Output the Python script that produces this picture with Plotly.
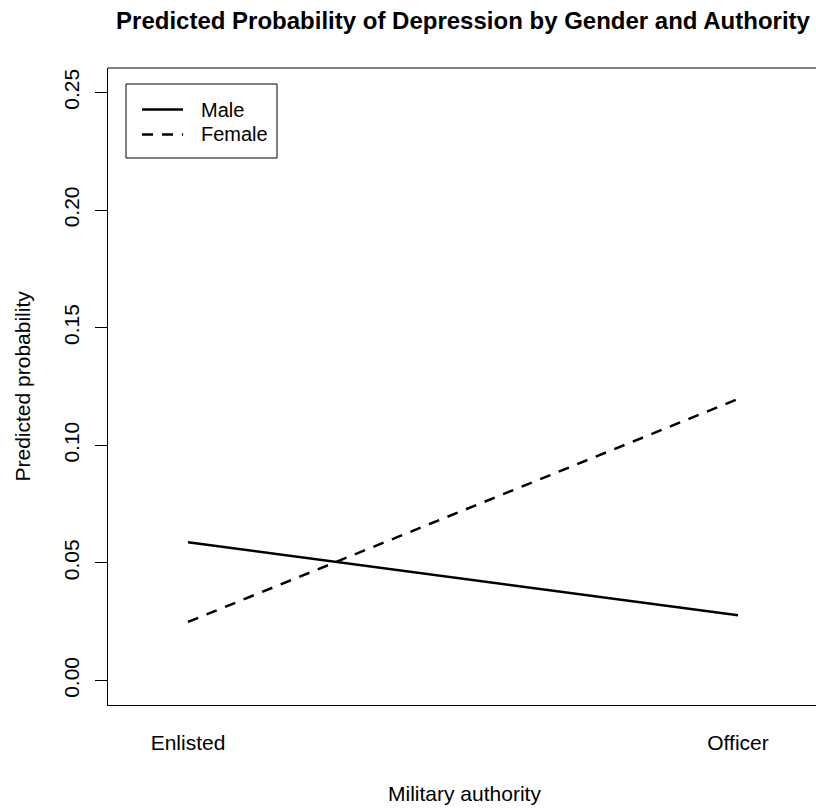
import plotly.graph_objects as go

categories = ["Enlisted", "Officer"]
male = [0.0588, 0.0278]
female = [0.0249, 0.1197]
ytick_vals = [0.00, 0.05, 0.10, 0.15, 0.20, 0.25]
ytick_text = ["0.00", "0.05", "0.10", "0.15", "0.20", "0.25"]
series_names = ["Male", "Female"]

FONT = "Liberation Sans, Arial, Helvetica, sans-serif"
L, T, W, H = 108, 68, 708, 637  # plot area in pixels


def px(x):
    return (x - L) / W


def py(y):
    return (T + H - y) / H


fig = go.Figure()
fig.add_trace(go.Scatter(x=categories, y=male, mode="lines", name=series_names[0],
                         line=dict(color="black", width=2.5), showlegend=False))
fig.add_trace(go.Scatter(x=categories, y=female, mode="lines", name=series_names[1],
                         line=dict(color="black", width=2.5, dash="11px,9px"), showlegend=False))

shapes = [
    # top border of the box
    dict(type="line", xref="paper", yref="paper", x0=0, x1=1.02, y0=1, y1=1,
         line=dict(color="black", width=1)),
    # legend box
    dict(type="rect", xref="paper", yref="paper", x0=px(126), x1=px(277), y0=py(158), y1=py(84),
         line=dict(color="black", width=1), fillcolor="white"),
    dict(type="line", xref="paper", yref="paper", x0=px(142), x1=px(183), y0=py(109.5), y1=py(109.5),
         line=dict(color="black", width=2.5)),
    dict(type="line", xref="paper", yref="paper", x0=px(142), x1=px(183), y0=py(134.5), y1=py(134.5),
         line=dict(color="black", width=2.5, dash="11px,9px")),
]

annotations = [
    dict(text=series_names[0], xref="paper", yref="paper", x=px(199), y=py(109.5),
         xanchor="left", yanchor="middle", showarrow=False, font=dict(size=20)),
    dict(text=series_names[1], xref="paper", yref="paper", x=px(199), y=py(134.5),
         xanchor="left", yanchor="middle", showarrow=False, font=dict(size=20)),
    dict(text="Predicted probability", xref="paper", yref="paper",
         x=px(22), y=0.5, xanchor="center", yanchor="middle",
         textangle=-90, showarrow=False, font=dict(size=21)),
    dict(text="Military authority", xref="paper", yref="paper",
         x=px(464), y=py(793), xanchor="center", yanchor="middle",
         showarrow=False, font=dict(size=21)),
]

fig.update_layout(
    width=816, height=810,
    margin=dict(l=L, r=816 - L - W, t=T, b=810 - T - H, autoexpand=False),
    paper_bgcolor="white", plot_bgcolor="white",
    font=dict(family=FONT, size=21, color="black"),
    title=dict(text="<b>Predicted Probability of Depression by Gender and Authority</b>",
               x=463 / 816, xanchor="center", y=1 - 21 / 810, yanchor="middle",
               font=dict(size=24, family=FONT, color="black")),
    showlegend=False,
    xaxis=dict(type="category", range=[-80 / 550, 1 + 78 / 550],
               showline=True, linecolor="black", linewidth=1, mirror=False,
               ticks="", showgrid=False, zeroline=False, automargin=False,
               tickfont=dict(size=21), ticklabelstandoff=19),
    yaxis=dict(range=[-0.0104, 0.2604], tickvals=ytick_vals, ticktext=ytick_text,
               showline=True, linecolor="black", linewidth=1, mirror=False,
               ticks="outside", ticklen=12, tickcolor="black", tickwidth=1,
               showgrid=False, zeroline=False, tickangle=-90, automargin=False,
               tickfont=dict(size=21), ticklabelstandoff=8),
    shapes=shapes,
    annotations=annotations,
)

fig.write_html("out.html", config={"displayModeBar": False},
               post_script="document.body.style.margin='0';document.body.style.overflow='hidden';")
